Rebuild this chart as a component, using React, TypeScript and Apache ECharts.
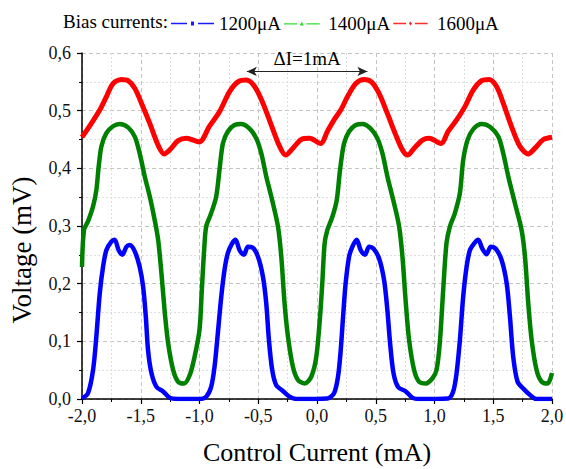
import React, { useEffect, useRef } from "react";
import * as echarts from "echarts";

const FONT = "'Liberation Serif', 'Times New Roman', serif";

const seriesNames = ["1200μA", "1400μA", "1600μA"];
const legendTitle = "Bias currents:";
const xAxisTitle = "Control Current (mA)";
const yAxisTitle = "Voltage (mV)";
const deltaLabel = "ΔI=1mA";
const deltaStart = [-0.597, 0.568];
const deltaEnd = [0.429, 0.568];

// [control current (mA), voltage (mV)]
const bias1200: number[][] = [
  [-2.0, 0.001], [-1.949, 0.01], [-1.906, 0.05], [-1.878, 0.108], [-1.849, 0.183], [-1.821, 0.229],
  [-1.793, 0.258], [-1.75, 0.273], [-1.722, 0.276], [-1.688, 0.258], [-1.656, 0.25], [-1.622, 0.264],
  [-1.594, 0.267], [-1.551, 0.256], [-1.509, 0.229], [-1.48, 0.195], [-1.457, 0.143], [-1.438, 0.085],
  [-1.409, 0.045], [-1.366, 0.021], [-1.31, 0.013], [-1.253, 0.002], [-1.182, 0], [-1.0, 0],
  [-0.943, 0.004], [-0.901, 0.021], [-0.872, 0.056], [-0.844, 0.114], [-0.815, 0.177], [-0.787, 0.224],
  [-0.759, 0.253], [-0.722, 0.27], [-0.693, 0.276], [-0.659, 0.258], [-0.622, 0.25], [-0.588, 0.264],
  [-0.551, 0.263], [-0.503, 0.247], [-0.46, 0.212], [-0.432, 0.166], [-0.409, 0.102], [-0.381, 0.05],
  [-0.347, 0.024], [-0.29, 0.014], [-0.233, 0.004], [-0.176, 0], [0.088, 0.001], [0.145, 0.01],
  [0.179, 0.039], [0.202, 0.085], [0.224, 0.149], [0.244, 0.201], [0.273, 0.247], [0.301, 0.264],
  [0.338, 0.276], [0.372, 0.258], [0.409, 0.25], [0.443, 0.264], [0.48, 0.261], [0.528, 0.244],
  [0.571, 0.206], [0.599, 0.154], [0.622, 0.097], [0.651, 0.045], [0.69, 0.021], [0.756, 0.013],
  [0.813, 0.002], [0.869, 0], [1.116, 0.001], [1.159, 0.013], [1.188, 0.045], [1.216, 0.102],
  [1.244, 0.177], [1.273, 0.229], [1.301, 0.258], [1.338, 0.27], [1.372, 0.276], [1.406, 0.261],
  [1.443, 0.251], [1.48, 0.264], [1.52, 0.261], [1.571, 0.241], [1.614, 0.201], [1.642, 0.143],
  [1.67, 0.073], [1.707, 0.03], [1.756, 0.018], [1.813, 0.007], [1.869, 0], [2.0, 0],
];

const bias1400: number[][] = [
  [-2.0, 0.229], [-1.983, 0.293], [-1.949, 0.308], [-1.906, 0.334], [-1.878, 0.362], [-1.858, 0.403],
  [-1.835, 0.438], [-1.793, 0.461], [-1.736, 0.473], [-1.679, 0.477], [-1.608, 0.471], [-1.551, 0.455],
  [-1.509, 0.426], [-1.466, 0.386], [-1.423, 0.351], [-1.381, 0.31], [-1.352, 0.276], [-1.324, 0.218],
  [-1.295, 0.149], [-1.267, 0.097], [-1.224, 0.05], [-1.182, 0.03], [-1.131, 0.027], [-1.082, 0.042],
  [-1.04, 0.075], [-1.0, 0.12], [-0.98, 0.19], [-0.96, 0.26], [-0.943, 0.299], [-0.901, 0.322],
  [-0.858, 0.351], [-0.83, 0.397], [-0.801, 0.443], [-0.759, 0.464], [-0.702, 0.475], [-0.645, 0.477],
  [-0.574, 0.469], [-0.517, 0.452], [-0.474, 0.426], [-0.432, 0.386], [-0.389, 0.351], [-0.332, 0.299],
  [-0.304, 0.247], [-0.276, 0.166], [-0.247, 0.108], [-0.205, 0.056], [-0.162, 0.033], [-0.105, 0.027],
  [-0.048, 0.039], [-0.006, 0.073], [0.026, 0.143], [0.045, 0.201], [0.065, 0.27], [0.088, 0.293],
  [0.131, 0.316], [0.168, 0.345], [0.196, 0.397], [0.23, 0.443], [0.273, 0.464], [0.33, 0.475],
  [0.386, 0.477], [0.457, 0.469], [0.514, 0.452], [0.557, 0.426], [0.599, 0.386], [0.656, 0.339],
  [0.699, 0.299], [0.727, 0.247], [0.756, 0.166], [0.784, 0.102], [0.827, 0.05], [0.869, 0.03],
  [0.926, 0.027], [0.983, 0.036], [1.017, 0.05], [1.045, 0.097], [1.074, 0.189], [1.102, 0.27],
  [1.131, 0.299], [1.173, 0.322], [1.216, 0.357], [1.244, 0.414], [1.281, 0.449], [1.33, 0.468],
  [1.401, 0.477], [1.472, 0.472], [1.543, 0.455], [1.585, 0.426], [1.628, 0.386], [1.685, 0.339],
  [1.741, 0.293], [1.77, 0.247], [1.798, 0.166], [1.827, 0.102], [1.869, 0.05], [1.912, 0.03],
  [1.963, 0.027], [2.0, 0.045],
];

const bias1600: number[][] = [
  [-2.0, 0.454], [-1.92, 0.478], [-1.849, 0.501], [-1.793, 0.524], [-1.736, 0.547], [-1.665, 0.554],
  [-1.608, 0.552], [-1.551, 0.539], [-1.494, 0.513], [-1.423, 0.478], [-1.352, 0.44], [-1.301, 0.425],
  [-1.253, 0.432], [-1.182, 0.448], [-1.111, 0.452], [-1.054, 0.449], [-1.0, 0.446], [-0.915, 0.473],
  [-0.83, 0.498], [-0.744, 0.533], [-0.673, 0.55], [-0.602, 0.553], [-0.531, 0.542], [-0.46, 0.513],
  [-0.389, 0.475], [-0.318, 0.438], [-0.267, 0.423], [-0.205, 0.435], [-0.134, 0.45], [-0.063, 0.452],
  [0.031, 0.443], [0.088, 0.464], [0.145, 0.484], [0.202, 0.501], [0.259, 0.524], [0.33, 0.547],
  [0.401, 0.554], [0.463, 0.55], [0.528, 0.53], [0.599, 0.495], [0.67, 0.458], [0.727, 0.432],
  [0.77, 0.423], [0.827, 0.435], [0.898, 0.449], [0.955, 0.452], [1.054, 0.443], [1.116, 0.464],
  [1.188, 0.484], [1.259, 0.507], [1.33, 0.536], [1.401, 0.552], [1.463, 0.554], [1.528, 0.542],
  [1.585, 0.513], [1.656, 0.472], [1.727, 0.438], [1.798, 0.425], [1.855, 0.435], [1.926, 0.45],
  [2.0, 0.454],
];

const fmt = (v: number) => v.toFixed(1).replace(".", ",");

export default function App() {
  const ref = useRef<HTMLDivElement>(null);
  useEffect(() => {
    if (!ref.current) return;
    const chart = echarts.init(ref.current, null, { renderer: "svg" });
    const axisCommon = {
      axisLine: { show: true, onZero: false, lineStyle: { color: "#000", width: 1.5 } },
      axisTick: { show: true, inside: false, length: 5, lineStyle: { color: "#000", width: 1.2 } },
      minorTick: { show: true, splitNumber: 2, length: 3, lineStyle: { color: "#000", width: 1 } },
      splitLine: { show: true, lineStyle: { color: "#c4c4c4", type: [4, 3], width: 1 } },
      minorSplitLine: { show: true, lineStyle: { color: "#dedede", type: [2, 2], width: 1 } },
      axisLabel: { color: "#111", fontFamily: FONT, fontSize: 18, formatter: fmt },
      nameTextStyle: { color: "#000", fontFamily: FONT },
    };
    const icon = (mid: string) =>
      `path://M0,3.2h16v1.6h-16z ${mid} M27,3.2h16v1.6h-16z`;
    chart.setOption({
      animation: false,
      backgroundColor: "#fff",
      title: {
        text: legendTitle,
        left: 58,
        top: 7,
        textStyle: { fontFamily: FONT, fontSize: 19, fontWeight: "normal", color: "#000" },
      },
      legend: {
        left: 166,
        top: 9,
        itemWidth: 43,
        itemHeight: 4,
        itemGap: 3,
        textStyle: { fontFamily: FONT, fontSize: 19, color: "#000" },
        data: [
          { name: seriesNames[0], icon: icon("M20,2h3v4h-3z"), itemStyle: { color: "#1a1aff" } },
          { name: seriesNames[1], icon: icon("M21.5,1.2L24,6L19,6z"), itemStyle: { color: "#2ee02e" } },
          { name: seriesNames[2], icon: icon("M21.5,1.5L23.5,4L21.5,6.5L19.5,4z"), itemStyle: { color: "#ff2a2a" } },
        ],
      },
      grid: { left: 82, right: 14, top: 53, bottom: 70, outerBoundsMode: "none", containLabel: false },
      xAxis: {
        type: "value",
        min: -2,
        max: 2,
        interval: 0.5,
        ...axisCommon,
        axisLabel: { ...axisCommon.axisLabel, margin: 8 },
        name: xAxisTitle,
        nameLocation: "middle",
        nameGap: 40,
        nameTextStyle: { ...axisCommon.nameTextStyle, fontSize: 26, verticalAlign: "top" },
      },
      yAxis: {
        type: "value",
        min: 0,
        max: 0.6,
        interval: 0.1,
        ...axisCommon,
        axisLabel: { ...axisCommon.axisLabel, margin: 11 },
      },
      graphic: [
        {
          type: "text",
          x: 22,
          y: 250,
          rotation: Math.PI / 2,
          style: {
            text: yAxisTitle,
            font: `27px ${FONT}`,
            fill: "#000",
            textAlign: "center",
            textVerticalAlign: "middle",
          },
        },
      ],
      series: [
        {
          name: seriesNames[0],
          type: "line",
          data: bias1200,
          smooth: 0.3,
          showSymbol: false,
          color: "#0000ff",
          lineStyle: { color: "#0000ff", width: 4.5 },
          z: 3,
        },
        {
          name: seriesNames[1],
          type: "line",
          data: bias1400,
          smooth: 0.3,
          showSymbol: false,
          color: "#008000",
          lineStyle: { color: "#008000", width: 4.5 },
          z: 2,
        },
        {
          name: seriesNames[2],
          type: "line",
          data: bias1600,
          smooth: 0.3,
          showSymbol: false,
          color: "#ff0000",
          lineStyle: { color: "#ff0000", width: 5 },
          z: 2,
          markLine: {
            silent: true,
            symbol: ["arrow", "arrow"],
            symbolSize: [7, 10],
            lineStyle: { color: "#222", width: 1, type: "solid" },
            label: {
              show: true,
              formatter: deltaLabel,
              position: "middle",
              fontFamily: FONT,
              fontSize: 19,
              color: "#000",
              distance: 3,
            },
            emphasis: { disabled: true },
            data: [[{ coord: deltaStart }, { coord: deltaEnd }]],
          },
        },
      ],
    });
    return () => chart.dispose();
  }, []);
  return (
    <div
      ref={ref}
      style={{ position: "absolute", left: 0, top: 0, width: 566, height: 469 }}
    />
  );
}
